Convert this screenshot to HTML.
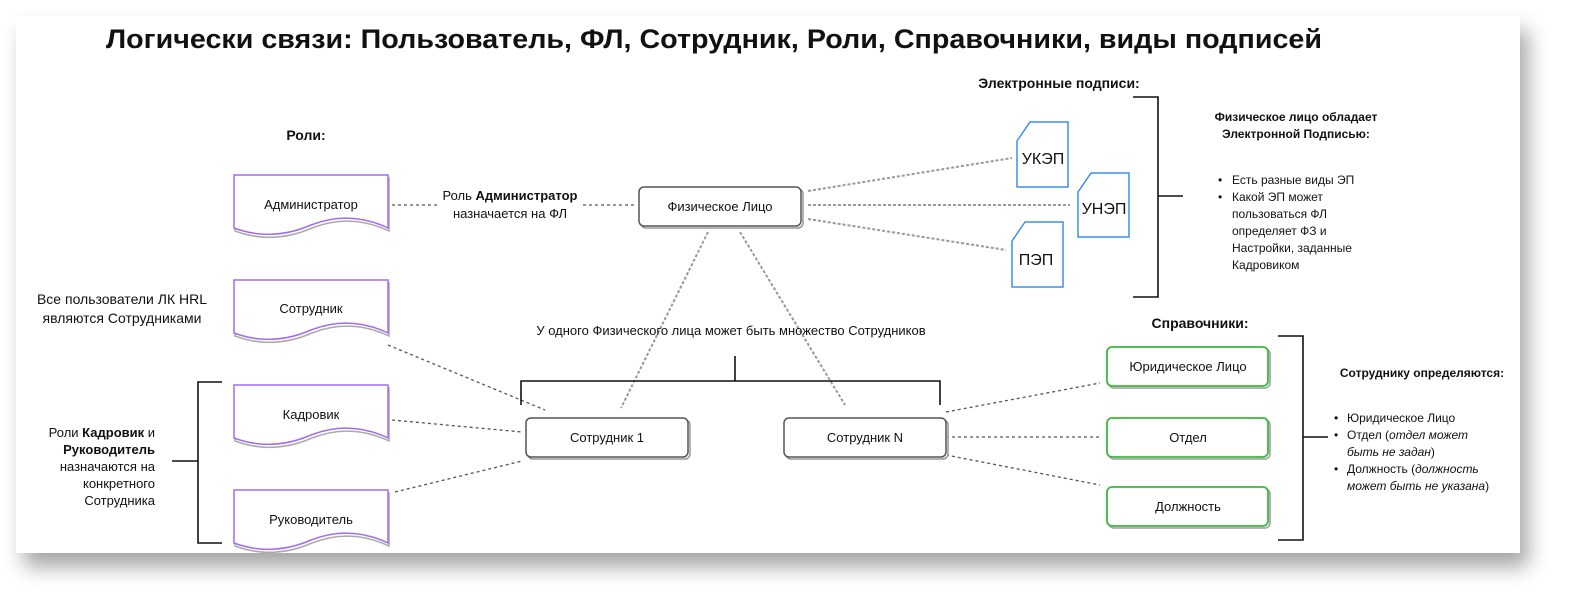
<!DOCTYPE html>
<html><head><meta charset="utf-8"><style>
html,body{margin:0;padding:0;background:#fff;}
svg{display:block;}
text{font-family:"Liberation Sans",Arial,sans-serif;fill:#111;}
</style></head><body>
<svg width="1583" height="608" viewBox="0 0 1583 608" xmlns="http://www.w3.org/2000/svg">
<defs>
<filter id="sh" x="-5%" y="-5%" width="110%" height="120%"><feDropShadow dx="8" dy="14" stdDeviation="10" flood-color="#000" flood-opacity="0.35"/></filter>
</defs>
<rect x="16" y="16" width="1504" height="537" fill="#fff" filter="url(#sh)"/>
<text x="714" y="48" font-size="27" font-weight="bold" text-anchor="middle" textLength="1216" lengthAdjust="spacingAndGlyphs">Логически связи: Пользователь, ФЛ, Сотрудник, Роли, Справочники, виды подписей</text>

<g font-size="13">
<text x="306" y="140" font-size="14" font-weight="bold" text-anchor="middle">Роли:</text>
<text x="1059" y="88" font-size="14" font-weight="bold" text-anchor="middle">Электронные подписи:</text>
<text x="1200" y="328" font-size="14" font-weight="bold" text-anchor="middle">Справочники:</text>

<!-- dotted connectors -->
<g stroke="#555" stroke-width="1.3" stroke-dasharray="3,3" fill="none">
<line x1="392" y1="205" x2="440" y2="205"/>
<line x1="583" y1="205" x2="636" y2="205"/>
<line x1="388" y1="345" x2="545" y2="410"/>
<line x1="392" y1="420" x2="522" y2="432"/>
<line x1="395" y1="492" x2="522" y2="461"/>
<line x1="946" y1="412" x2="1100" y2="383"/>
<line x1="946" y1="437" x2="1100" y2="437"/>
<line x1="946" y1="455" x2="1100" y2="485"/>
</g>
<g stroke="#999" stroke-width="2" stroke-dasharray="3,2" fill="none">
<line x1="708" y1="232" x2="621" y2="408"/>
<line x1="740" y1="232" x2="845" y2="405"/>
<line x1="808" y1="191" x2="1012" y2="158"/>
<line x1="808" y1="205" x2="1070" y2="205"/>
<line x1="808" y1="219" x2="1006" y2="250"/>
</g>

<!-- brackets -->
<g stroke="#111" stroke-width="1.6" fill="none">
<path d="M521 405 V381 H940 V405"/><line x1="735" y1="356" x2="735" y2="381"/>
<path d="M222 382 H198 V543 H222"/><line x1="172" y1="461" x2="198" y2="461"/>
<path d="M1133 97 H1158 V297 H1133"/><line x1="1158" y1="196" x2="1183" y2="196"/>
<path d="M1278 336 H1303 V540 H1278"/><line x1="1303" y1="437" x2="1328" y2="437"/>
</g>

<!-- documents (roles) -->
<g fill="#fff" stroke-width="1.5">
<g id="d1">
<path d="M234 175 H388 V228 Q350 210 311 225 Q272 242 234 228 Z" stroke="#aaa" transform="translate(1,3)"/>
<path d="M234 175 H388 V228 Q350 210 311 225 Q272 242 234 228 Z" stroke="#a36cf0"/>
</g>
<use href="#d1" transform="translate(0,105)"/>
<use href="#d1" transform="translate(0,210)"/>
<use href="#d1" transform="translate(0,315)"/>
</g>
<text x="311" y="209" text-anchor="middle">Администратор</text>
<text x="311" y="313" text-anchor="middle">Сотрудник</text>
<text x="311" y="419" text-anchor="middle">Кадровик</text>
<text x="311" y="524" text-anchor="middle">Руководитель</text>

<!-- grey boxes -->
<g fill="#fff" stroke-width="1.5">
<rect x="641" y="189" width="162" height="39" rx="5" stroke="#999"/><rect x="639" y="187" width="162" height="39" rx="5" stroke="#555"/>
<rect x="528" y="420" width="162" height="39" rx="5" stroke="#999"/><rect x="526" y="418" width="162" height="39" rx="5" stroke="#555"/>
<rect x="786" y="420" width="162" height="39" rx="5" stroke="#999"/><rect x="784" y="418" width="162" height="39" rx="5" stroke="#555"/>
</g>
<text x="720" y="211" text-anchor="middle">Физическое Лицо</text>
<text x="607" y="442" text-anchor="middle">Сотрудник 1</text>
<text x="865" y="442" text-anchor="middle">Сотрудник N</text>

<!-- green boxes -->
<g fill="#fff" stroke-width="1.8">
<rect x="1109" y="349" width="161" height="39" rx="5" stroke="#aaa"/><rect x="1107" y="347" width="161" height="39" rx="5" stroke="#3cb83c"/>
<rect x="1109" y="420" width="161" height="39" rx="5" stroke="#aaa"/><rect x="1107" y="418" width="161" height="39" rx="5" stroke="#3cb83c"/>
<rect x="1109" y="489" width="161" height="39" rx="5" stroke="#aaa"/><rect x="1107" y="487" width="161" height="39" rx="5" stroke="#3cb83c"/>
</g>
<text x="1188" y="371" text-anchor="middle">Юридическое Лицо</text>
<text x="1188" y="442" text-anchor="middle">Отдел</text>
<text x="1188" y="511" text-anchor="middle">Должность</text>

<!-- signature cards -->
<g fill="#fff" stroke="#3d8ef0" stroke-width="1.5">
<path d="M1030 122 H1068 V187 H1017 V141 Z"/>
<path d="M1091 173 H1129 V237 H1078 V192 Z"/>
<path d="M1025 222 H1063 V287 H1012 V241 Z"/>
</g>
<text x="1043" y="164" font-size="16" text-anchor="middle">УКЭП</text>
<text x="1104" y="214" font-size="16" text-anchor="middle">УНЭП</text>
<text x="1036" y="265" font-size="16" text-anchor="middle">ПЭП</text>

<!-- admin label -->
<text x="510" y="200" text-anchor="middle">Роль <tspan font-weight="bold">Администратор</tspan></text>
<text x="510" y="218" text-anchor="middle">назначается на ФЛ</text>
<text x="731" y="335" text-anchor="middle">У одного Физического лица может быть множество Сотрудников</text>

<text x="122" y="304" font-size="14" text-anchor="middle">Все пользователи ЛК HRL</text>
<text x="122" y="323" font-size="14" text-anchor="middle">являются Сотрудниками</text>

<g text-anchor="end">
<text x="155" y="437">Роли <tspan font-weight="bold">Кадровик</tspan> и</text>
<text x="155" y="454" font-weight="bold">Руководитель</text>
<text x="155" y="471">назначаются на</text>
<text x="155" y="488">конкретного</text>
<text x="155" y="505">Сотрудника</text>
</g>

<text x="1296" y="121" font-size="12" font-weight="bold" text-anchor="middle">Физическое лицо обладает</text>
<text x="1296" y="138" font-size="12" font-weight="bold" text-anchor="middle">Электронной Подписью:</text>
<g font-size="12">
<text x="1218" y="184">•</text><text x="1232" y="184">Есть разные виды ЭП</text>
<text x="1218" y="201">•</text><text x="1232" y="201">Какой ЭП может</text>
<text x="1232" y="218">пользоваться ФЛ</text>
<text x="1232" y="235">определяет ФЗ и</text>
<text x="1232" y="252">Настройки, заданные</text>
<text x="1232" y="269">Кадровиком</text>
</g>

<text x="1422" y="377" font-size="12" font-weight="bold" text-anchor="middle">Сотруднику определяются:</text>
<g font-size="12">
<text x="1334" y="422">•</text><text x="1347" y="422">Юридическое Лицо</text>
<text x="1334" y="439">•</text><text x="1347" y="439">Отдел (<tspan font-style="italic">отдел может</tspan></text>
<text x="1347" y="456"><tspan font-style="italic">быть не задан</tspan>)</text>
<text x="1334" y="473">•</text><text x="1347" y="473">Должность (<tspan font-style="italic">должность</tspan></text>
<text x="1347" y="490"><tspan font-style="italic">может быть не указана</tspan>)</text>
</g>
</g>
</svg>
</body></html>
